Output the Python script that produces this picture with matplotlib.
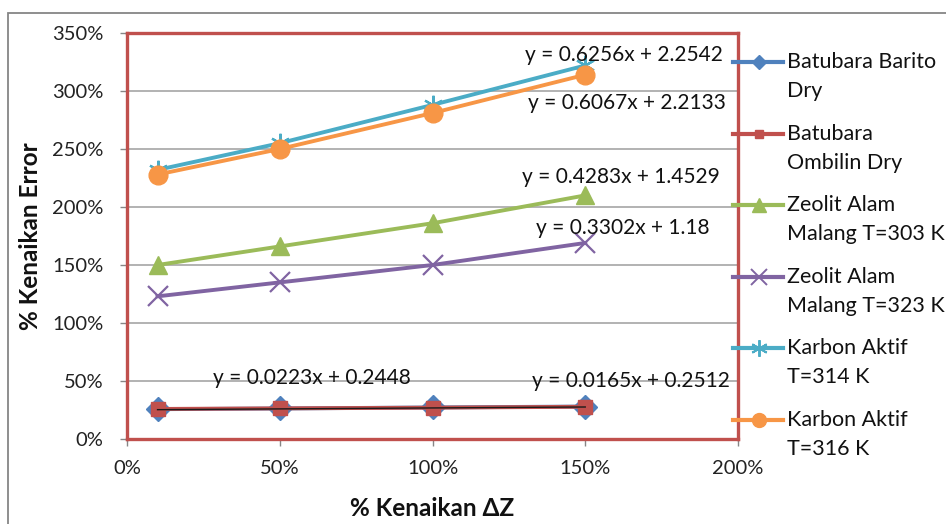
import matplotlib
matplotlib.use("Agg")
import matplotlib.pyplot as plt
from matplotlib.lines import Line2D
from matplotlib.patches import Rectangle
from matplotlib.ticker import FuncFormatter
import numpy as np

plt.rcParams['font.family'] = ['Lato', 'DejaVu Sans']

# data: relative increase of dZ vs. relative increase of error
x_vals = [0.10, 0.50, 1.00, 1.50]
series_names = [
    "Batubara Barito\nDry",
    "Batubara\nOmbilin Dry",
    "Zeolit Alam\nMalang T=303 K",
    "Zeolit Alam\nMalang T=323 K",
    "Karbon Aktif\nT=314 K",
    "Karbon Aktif\nT=316 K",
]
barito = [0.257, 0.263, 0.272, 0.280]
ombilin = [0.259, 0.264, 0.270, 0.278]
zeolit_303 = [1.50, 1.66, 1.86, 2.10]
zeolit_323 = [1.23, 1.35, 1.50, 1.69]
karbon_314 = [2.32, 2.55, 2.88, 3.22]
karbon_316 = [2.28, 2.50, 2.81, 3.14]
series_values = [barito, ombilin, zeolit_303, zeolit_323, karbon_314, karbon_316]

# linear trendline coefficients (slope, intercept)
trend_slopes = [0.0223, 0.0165, 0.4283, 0.3302, 0.6256, 0.6067]
trend_intercepts = [0.2448, 0.2512, 1.4529, 1.18, 2.2542, 2.2133]

x_ticks = [0.0, 0.5, 1.0, 1.5, 2.0]
y_ticks = [0.0, 0.5, 1.0, 1.5, 2.0, 2.5, 3.0, 3.5]

# styling
colors = ["#4F81BD", "#C0504D", "#9BBB59", "#8064A2", "#4BACC6", "#F79646"]
markers = ["D", "s", "^", "x", (6, 2, 0), "o"]
msizes = [12.5, 9.5, 13.5, 14, 14, 13.5]
lg_msizes = [7.5, 6, 10, 12, 12, 10]
eq_pos = [(0.606, 0.526), (1.650, 0.50), (1.617, 2.259),
          (1.622, 1.819), (1.628, 3.31), (1.637, 2.896)]

W, H = 946, 524
fig = plt.figure(figsize=(W / 100, H / 100), dpi=100)

# outer chart frame
fig.patches.append(Rectangle((8 / W, -0.1), 1.2, 1 - 13 / H + 0.1,
                             transform=fig.transFigure, fill=False,
                             edgecolor="#868686", linewidth=1.3))

ax = fig.add_axes([127 / W, 1 - 439 / H, (738 - 127) / W, (439 - 33) / H])
ax.set_xlim(0, 2.0)
ax.set_ylim(0, 3.5)
ax.set_xticks(x_ticks)
ax.set_yticks(y_ticks)
pct = FuncFormatter(lambda v, p: f"{v * 100:.0f}%")
ax.xaxis.set_major_formatter(pct)
ax.yaxis.set_major_formatter(pct)
ax.tick_params(axis="both", labelsize=14.5, colors="#222222", length=5,
               width=1, direction="out")
ax.tick_params(axis="y", pad=12)
ax.tick_params(axis="x", pad=10)
ax.tick_params(axis="both", color="#868686")
ax.grid(axis="y", color="#A6A6A6", linewidth=1.2)
ax.set_axisbelow(True)
for s in ax.spines.values():
    s.set_color("#C0504D")
    s.set_linewidth(2.4)

for vals, c, m, ms in zip(series_values, colors, markers, msizes):
    mew = 1.6 if m in ("x", (6, 2, 0)) else 1
    ax.plot(x_vals, vals, color=c, linewidth=2.8, marker=m, markersize=ms,
            markeredgecolor=c, markerfacecolor=c, markeredgewidth=mew,
            zorder=3)

# visible trendline for Batubara Ombilin Dry
tx = np.array([x_vals[0], x_vals[-1]])
ax.plot(tx, trend_slopes[1] * tx + trend_intercepts[1], color="#1a1a1a",
        linewidth=1.0, zorder=4)

for (ex, ey), a, b in zip(eq_pos, trend_slopes, trend_intercepts):
    ax.text(ex, ey, f"y = {a:g}x + {b:g}", ha="center", va="center",
            fontsize=15, color="#111111", zorder=5)

fig.text(432 / W, 1 - 508 / H, "% Kenaikan ΔZ", fontsize=17.5,
         fontweight="bold", color="#111111", ha="center", va="center")
fig.text(30 / W, 1 - 236 / H, "% Kenaikan Error", rotation=90,
         fontsize=17.5, fontweight="bold", color="#111111",
         ha="center", va="center")

# legend drawn on the right
for i, (name, c, m, ms) in enumerate(zip(series_names, colors, markers,
                                         lg_msizes)):
    y0 = 62 + i * 71.6
    yf = 1 - y0 / H
    mew = 1.4 if m in ("x", (6, 2, 0)) else 1
    fig.lines.append(Line2D([733 / W, 783 / W], [yf, yf],
                            transform=fig.transFigure, color=c,
                            linewidth=3))
    fig.lines.append(Line2D([759 / W], [yf], transform=fig.transFigure,
                            color=c, marker=m, markersize=ms,
                            markeredgecolor=c, markerfacecolor=c,
                            markeredgewidth=mew))
    first, second = name.split("\n")
    fig.text(787 / W, yf, first, fontsize=15.5, color="#111111",
             ha="left", va="center")
    fig.text(787 / W, 1 - (y0 + 29) / H, second, fontsize=15.5,
             color="#111111", ha="left", va="center")

fig.savefig("out.png", dpi=100, facecolor="white")
